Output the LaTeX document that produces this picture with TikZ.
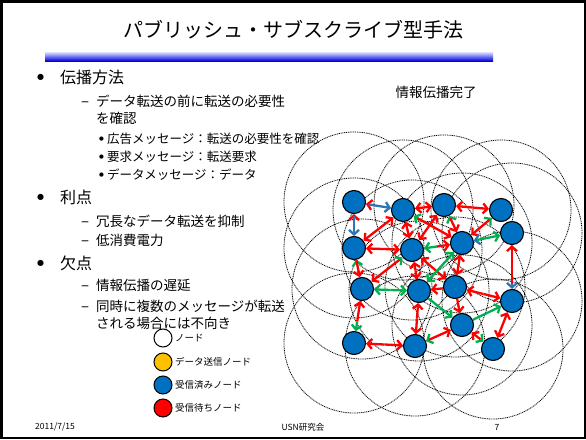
\documentclass[tikz,border=0pt]{standalone}
\usepackage{fontspec}
\setmainfont{Noto Sans CJK JP}
\newfontfamily\symfont{DejaVu Sans}
\usetikzlibrary{arrows.meta,calc}
\pgfdeclarelayer{paper}
\pgfdeclarelayer{ranges}
\pgfsetlayers{paper,ranges,main}
\definecolor{nodeblue}{RGB}{0,112,192}
\definecolor{arrred}{RGB}{255,0,0}
\definecolor{arrgreen}{RGB}{0,176,80}
\definecolor{arrblue}{RGB}{46,117,182}
\definecolor{legorange}{RGB}{255,192,0}
\definecolor{barlight}{RGB}{222,226,252}
\definecolor{bardark}{RGB}{0,0,225}
\tikzset{
  snode/.style={circle, draw=black, line width=1.1pt, fill=nodeblue, minimum size=23pt, inner sep=0pt},
  legnode/.style={circle, draw=black, line width=1pt, minimum size=18pt, inner sep=0pt},
  rangecircle/.style={dash pattern=on 1pt off 0.8pt, line width=0.8pt, black},
  tipb/.style={-{Straight Barb[length=4.5pt,width=10pt]}},
  hr/.style={arrred, tipb}, hg/.style={arrgreen, tipb}, hb/.style={arrblue, tipb},
  lr/.style={arrred}, lg/.style={arrgreen}, lb/.style={arrblue},
  conn/.style={line width=2.3pt},
  lvA/.style={anchor=west, inner sep=0pt, font=\fontsize{16pt}{18pt}\selectfont},
  lvB/.style={anchor=west, inner sep=0pt, font=\fontsize{13.5pt}{16pt}\selectfont},
  lvC/.style={anchor=west, inner sep=0pt, font=\fontsize{12.5pt}{14pt}\selectfont},
  legtext/.style={anchor=west, inner sep=0pt, font=\fontsize{9.5pt}{11pt}\selectfont},
  foot/.style={inner sep=0pt, font=\fontsize{8.5pt}{10pt}\selectfont},
}
\newcommand\edgepair[5][0.5]{%
  \draw[conn,#4] ($(#2)!#1!(#3)$) -- (#2);
  \draw[conn,#5] ($(#2)!#1!(#3)$) -- (#3);}
\newcommand\bigbul{\makebox[23pt][l]{\raisebox{3.6pt}{\symfont\fontsize{8pt}{10pt}\selectfont ●}}}
\newcommand\smallbul{\makebox[8pt][l]{\raisebox{3pt}{\symfont\fontsize{5.5pt}{7pt}\selectfont ●}}}
\newcommand\dashbul{\makebox[15pt][l]{\fontsize{15pt}{16pt}\selectfont –}}
\begin{document}
\begin{tikzpicture}[x=1pt,y=-1pt]
\useasboundingbox (0,0) rectangle (586,439);
\begin{pgfonlayer}{paper}
\fill[white] (0,0) rectangle (586,439);
\end{pgfonlayer}
\draw[line width=2.5pt] (1.25,1.25) rectangle (584.75,437.75);

% title and bar
\node[inner sep=0pt, font=\fontsize{20pt}{22pt}\selectfont] (title) at (293,30) {パブリッシュ・サブスクライブ型手法};
\shade[top color=barlight, bottom color=bardark] (45,52) rectangle (493,61);

% text list
\node[lvA] (t1) at (37,77) {\bigbul 伝播方法};
\node[lvB] (t2) at (81,101) {\dashbul データ転送の前に転送の必要性};
\node[lvB] (t3) at (96,118) {を確認};
\node[lvC] (t4) at (99,139) {\smallbul 広告メッセージ：転送の必要性を確認};
\node[lvC] (t5) at (99,157) {\smallbul 要求メッセージ：転送要求};
\node[lvC] (t6) at (99,175) {\smallbul データメッセージ：データ};
\node[lvA] (t7) at (37,197) {\bigbul 利点};
\node[lvB] (t8) at (81,221) {\dashbul 冗長なデータ転送を抑制};
\node[lvB] (t9) at (81,240) {\dashbul 低消費電力};
\node[lvA] (t10) at (37,263) {\bigbul 欠点};
\node[lvB] (t11) at (81,285) {\dashbul 情報伝播の遅延};
\node[lvB] (t12) at (81,306) {\dashbul 同時に複数のメッセージが転送};
\node[lvB] (t13) at (96,323) {される場合には不向き};

\node[inner sep=0pt, font=\fontsize{13.5pt}{16pt}\selectfont] (done) at (436,92) {情報伝播完了};

% legend
\node[legnode, fill=white] (lg1) at (163,338) {};
\node[legnode, fill=legorange] (lg2) at (163,362) {};
\node[legnode, fill=nodeblue] (lg3) at (163,385) {};
\node[legnode, fill=arrred] (lg4) at (163,408) {};
\node[legtext] at (175,338) {ノード};
\node[legtext] at (175,362) {データ送信ノード};
\node[legtext] at (175,385) {受信済みノード};
\node[legtext] at (175,408) {受信待ちノード};

% footer
\node[foot, anchor=west] (f1) at (35,427) {2011/7/15};
\node[foot] (f2) at (303,427) {USN研究会};
\node[foot] (f3) at (497,427) {7};

% sensor nodes
\node[snode] (A) at (354,202) {};
\node[snode] (B) at (403,210) {};
\node[snode] (C) at (444,205) {};
\node[snode] (D) at (501,210) {};
\node[snode] (E) at (512,233) {};
\node[snode] (F) at (354,248) {};
\node[snode] (G) at (412,250) {};
\node[snode] (H) at (462,243) {};
\node[snode] (I) at (362,289) {};
\node[snode] (J) at (419,291) {};
\node[snode] (K) at (455,287) {};
\node[snode] (L) at (512,301) {};
\node[snode] (M) at (354,343) {};
\node[snode] (N) at (415,346) {};
\node[snode] (O) at (462,325) {};
\node[snode] (P) at (493,349) {};

\begin{pgfonlayer}{ranges}
\foreach \n in {A,B,C,D,E,F,G,H,I,J,K,L,M,N,O,P}
  \draw[rangecircle] (\n.center) circle[radius=70pt];
\end{pgfonlayer}

% messages
\edgepair[0.3]{A}{B}{hr}{hb}
\edgepair[0.3]{A}{F}{hr}{hb}
\edgepair{B}{F}{hr}{hr}
\edgepair{F}{G}{hr}{hr}
\edgepair{B}{C}{hr}{hr}
\edgepair{C}{D}{hr}{hr}
\edgepair{B}{G}{hr}{hr}
\edgepair[0.25]{B}{H}{hg}{hr}
\edgepair{C}{G}{hr}{hr}
\edgepair[0.35]{C}{H}{hg}{hr}
\edgepair[0.3]{D}{H}{hg}{hr}
\edgepair[0.3]{H}{E}{hb}{hg}
\edgepair{G}{H}{hg}{hr}
\edgepair[0.75]{E}{L}{hr}{hb}
\edgepair[0.3]{F}{I}{hg}{hr}
\edgepair[0.25]{G}{I}{hg}{hr}
\edgepair{I}{J}{hg}{hg}
\edgepair{G}{J}{hr}{hr}
\edgepair{G}{K}{hr}{hr}
\edgepair{H}{J}{hg}{hg}
\edgepair{H}{K}{hr}{hr}
\edgepair{K}{J}{lr}{hr}
\edgepair{K}{L}{hr}{hr}
\edgepair{J}{O}{lg}{hg}
\edgepair{K}{O}{lr}{hr}
\edgepair{O}{L}{lg}{hg}
\edgepair{L}{P}{hr}{hr}
\edgepair[0.6]{O}{P}{hr}{hg}
\edgepair[0.3]{N}{O}{hg}{hr}
\edgepair[0.6]{I}{M}{hr}{hg}
\edgepair{J}{N}{hr}{hr}
\edgepair{M}{N}{hr}{hr}
\end{tikzpicture}
\end{document}
